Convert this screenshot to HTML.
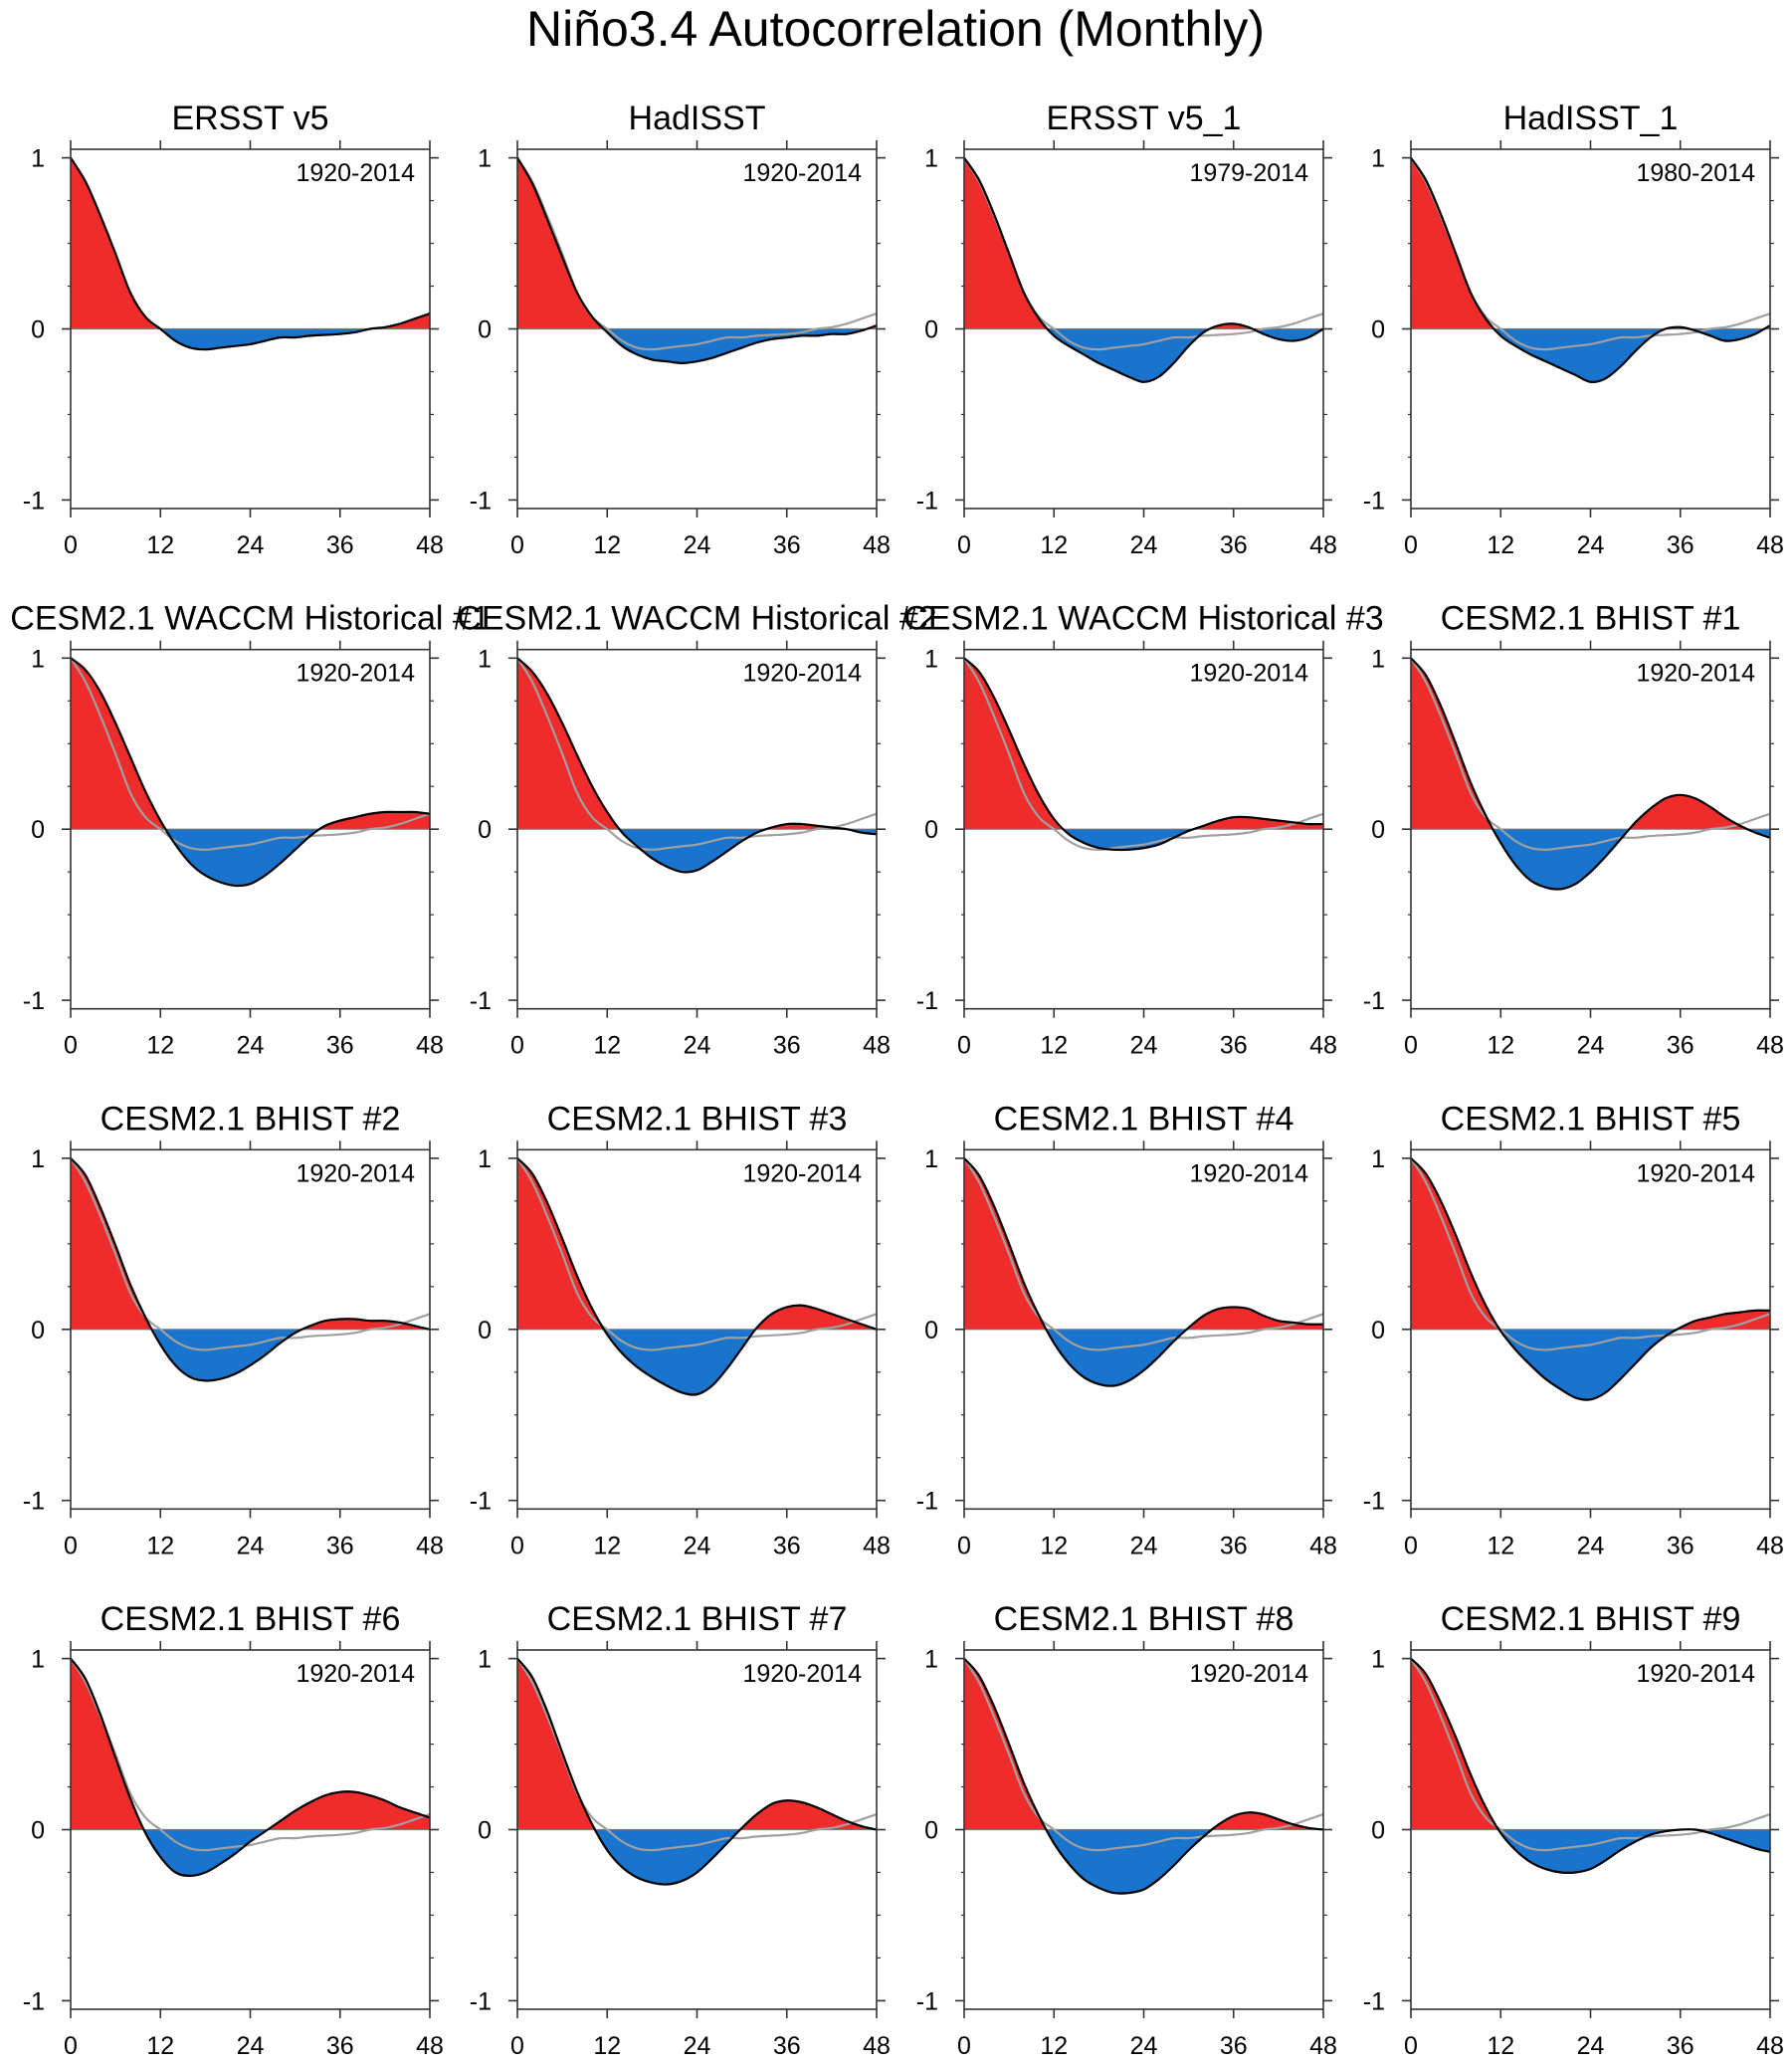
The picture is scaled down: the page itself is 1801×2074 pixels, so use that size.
<!DOCTYPE html>
<html><head><meta charset="utf-8"><style>
html,body{margin:0;padding:0;background:#fff;}
svg{display:block;font-family:"Liberation Sans",Arial,sans-serif;}
</style></head><body>
<svg id="fig" width="1801" height="2074" viewBox="0 0 1801 2074">
<text x="900" y="46" text-anchor="middle" font-size="50">Niño3.4 Autocorrelation (Monthly)</text>
</svg>
<script>
// lags 0,2,4,...,48
const lags = [0,2,4,6,8,10,12,14,16,18,20,22,24,26,28,30,32,34,36,38,40,42,44,46,48];
const titles = ["ERSST v5","HadISST","ERSST v5_1","HadISST_1",
 "CESM2.1 WACCM Historical #1","CESM2.1 WACCM Historical #2","CESM2.1 WACCM Historical #3","CESM2.1 BHIST #1",
 "CESM2.1 BHIST #2","CESM2.1 BHIST #3","CESM2.1 BHIST #4","CESM2.1 BHIST #5",
 "CESM2.1 BHIST #6","CESM2.1 BHIST #7","CESM2.1 BHIST #8","CESM2.1 BHIST #9"];
const periods = ["1920-2014","1920-2014","1979-2014","1980-2014","1920-2014","1920-2014","1920-2014","1920-2014",
 "1920-2014","1920-2014","1920-2014","1920-2014","1920-2014","1920-2014","1920-2014","1920-2014"];
const reference = [1,0.86,0.66,0.44,0.21,0.07,0,-0.07,-0.11,-0.12,-0.11,-0.1,-0.09,-0.07,-0.05,-0.05,-0.04,-0.035,-0.03,-0.02,0.0,0.01,0.03,0.06,0.09];
const s01 = reference;
const s02 = [1,0.85,0.64,0.42,0.21,0.07,-0.02,-0.1,-0.15,-0.18,-0.19,-0.2,-0.19,-0.17,-0.14,-0.11,-0.08,-0.06,-0.05,-0.04,-0.04,-0.03,-0.03,-0.01,0.02];
const s03 = [1,0.87,0.67,0.44,0.21,0.06,-0.04,-0.1,-0.15,-0.2,-0.24,-0.28,-0.31,-0.28,-0.2,-0.1,-0.02,0.02,0.03,0.01,-0.03,-0.06,-0.07,-0.05,0];
const s04 = [1,0.87,0.67,0.44,0.21,0.06,-0.04,-0.1,-0.15,-0.19,-0.23,-0.27,-0.31,-0.29,-0.22,-0.13,-0.05,0.0,0.01,-0.01,-0.04,-0.07,-0.06,-0.03,0.02];
const s05 = [1,0.93,0.8,0.62,0.42,0.22,0.05,-0.09,-0.2,-0.27,-0.31,-0.33,-0.32,-0.27,-0.2,-0.12,-0.04,0.02,0.05,0.07,0.09,0.1,0.1,0.1,0.09];
const s06 = [1,0.92,0.79,0.62,0.43,0.25,0.1,-0.02,-0.1,-0.17,-0.22,-0.25,-0.24,-0.19,-0.13,-0.07,-0.02,0.01,0.03,0.03,0.02,0.01,0,-0.02,-0.03];
const s07 = [1,0.92,0.77,0.58,0.38,0.2,0.06,-0.03,-0.08,-0.11,-0.12,-0.12,-0.11,-0.09,-0.05,-0.01,0.02,0.05,0.07,0.07,0.06,0.05,0.04,0.03,0.03];
const s08 = [1,0.9,0.72,0.5,0.27,0.08,-0.08,-0.21,-0.3,-0.34,-0.35,-0.32,-0.25,-0.16,-0.06,0.04,0.12,0.18,0.2,0.18,0.13,0.07,0.02,-0.02,-0.05];
const s09 = [1,0.9,0.71,0.49,0.26,0.07,-0.09,-0.21,-0.28,-0.3,-0.29,-0.26,-0.21,-0.15,-0.08,-0.02,0.02,0.05,0.06,0.06,0.05,0.05,0.04,0.02,0];
const s10 = [1,0.91,0.74,0.53,0.31,0.12,-0.03,-0.14,-0.22,-0.28,-0.33,-0.37,-0.38,-0.33,-0.23,-0.11,0.01,0.09,0.13,0.14,0.12,0.09,0.06,0.03,0];
const s11 = [1,0.9,0.72,0.5,0.27,0.08,-0.08,-0.2,-0.28,-0.32,-0.33,-0.3,-0.24,-0.16,-0.07,0.01,0.08,0.12,0.13,0.12,0.08,0.05,0.04,0.03,0.03];
const s12 = [1,0.91,0.75,0.55,0.33,0.14,-0.01,-0.12,-0.21,-0.29,-0.35,-0.4,-0.41,-0.37,-0.29,-0.2,-0.11,-0.04,0.01,0.05,0.07,0.09,0.1,0.11,0.11];
const s13 = [1,0.88,0.67,0.42,0.18,-0.02,-0.16,-0.25,-0.27,-0.25,-0.2,-0.14,-0.07,-0.01,0.05,0.11,0.16,0.2,0.22,0.22,0.2,0.17,0.13,0.1,0.07];
const s14 = [1,0.89,0.69,0.45,0.22,0.03,-0.12,-0.22,-0.28,-0.31,-0.32,-0.3,-0.25,-0.17,-0.08,0.01,0.09,0.15,0.17,0.16,0.13,0.09,0.05,0.02,0];
const s15 = [1,0.9,0.72,0.5,0.27,0.08,-0.08,-0.2,-0.29,-0.34,-0.37,-0.37,-0.35,-0.29,-0.21,-0.12,-0.04,0.03,0.08,0.1,0.09,0.06,0.03,0.01,0];
const s16 = [1,0.91,0.74,0.54,0.32,0.13,-0.02,-0.12,-0.19,-0.23,-0.25,-0.25,-0.23,-0.18,-0.12,-0.07,-0.03,-0.01,0,0,-0.02,-0.05,-0.08,-0.11,-0.13];
const series = [s01,s02,s03,s04,s05,s06,s07,s08,s09,s10,s11,s12,s13,s14,s15,s16];
const xTicks = [0,12,24,36,48];
const yTicks = [-1,0,1];
const yMinor = [-0.75,-0.5,-0.25,0.25,0.5,0.75];

const NS="http://www.w3.org/2000/svg";
const svg=document.getElementById('fig');
function mk(tag,attrs,parent){const e=document.createElementNS(NS,tag);for(const k in attrs)e.setAttribute(k,attrs[k]);(parent||svg).appendChild(e);return e;}
const colLeft=[71,520,969,1418], rowTop=[150,652.7,1155.3,1658], W=361, H=361;
const YMIN=-1.05, YMAX=1.05;
function smoothPath(pts){
  let d="M"+pts[0][0]+","+pts[0][1];
  for(let i=0;i<pts.length-1;i++){
    const p0=pts[Math.max(0,i-1)],p1=pts[i],p2=pts[i+1],p3=pts[Math.min(pts.length-1,i+2)];
    const c1x=p1[0]+(p2[0]-p0[0])/6,c1y=p1[1]+(p2[1]-p0[1])/6;
    const c2x=p2[0]-(p3[0]-p1[0])/6,c2y=p2[1]-(p3[1]-p1[1])/6;
    d+=" C"+c1x.toFixed(2)+","+c1y.toFixed(2)+" "+c2x.toFixed(2)+","+c2y.toFixed(2)+" "+p2[0].toFixed(2)+","+p2[1].toFixed(2);
  }
  return d;
}
series.forEach((vals,idx)=>{
  const L=colLeft[idx%4], T=rowTop[Math.floor(idx/4)];
  const xs=v=>L+v/48*W, ys=v=>T+(YMAX-v)/(YMAX-YMIN)*H;
  const g=mk('g',{});
  
  
  const t=mk('text',{x:L+W/2,y:T-20,'text-anchor':'middle','font-size':34},g);
  t.textContent=titles[idx];
  
  
  const y0=ys(0);
  const cidA='ca'+idx, cidB='cb'+idx;
  const defs=mk('defs',{},g);
  const ca=mk('clipPath',{id:cidA},defs); mk('rect',{x:L,y:T,width:W,height:y0-T},ca);
  const cb=mk('clipPath',{id:cidB},defs); mk('rect',{x:L,y:y0,width:W,height:T+H-y0},cb);
  const pts=lags.map((l,i)=>[xs(l),ys(vals[i])]);
  const curve=smoothPath(pts);
  const area=curve+" L"+xs(48)+","+y0+" L"+xs(0)+","+y0+" Z";
  const pos=mk('path',{d:area,fill:'#ee2c2c','clip-path':'url(#'+cidA+')'},g);
  
  
  const neg=mk('path',{d:area,fill:'#1874cd','clip-path':'url(#'+cidB+')'},g);
  
  
  mk('line',{x1:L,x2:L+W,y1:y0,y2:y0,stroke:'#777','stroke-width':1.2},g);
  if(idx>0){
    const rp=lags.map((l,i)=>[xs(l),ys(reference[i])]);
    const ref=mk('path',{d:smoothPath(rp),fill:'none',stroke:'#a0a0a0','stroke-width':2.2},g);
    
    
  }
  const ln=mk('path',{d:curve,fill:'none',stroke:'#000','stroke-width':2.2},g);
  
  
  const fr=mk('rect',{x:L,y:T,width:W,height:H,fill:'none',stroke:'#333','stroke-width':1.6},g);
  
  
  xTicks.forEach(v=>{
    const x=xs(v);
    mk('line',{x1:x,x2:x,y1:T+H,y2:T+H+9,stroke:'#333','stroke-width':1.6},g);
    mk('line',{x1:x,x2:x,y1:T,y2:T-9,stroke:'#333','stroke-width':1.6},g);
    const lb=mk('text',{x:x,y:T+H+45,'text-anchor':'middle','font-size':25},g);
    lb.textContent=v;
    
    
  });
  yTicks.forEach(v=>{
    const y=ys(v);
    mk('line',{x1:L-9,x2:L,y1:y,y2:y,stroke:'#333','stroke-width':1.6},g);
    mk('line',{x1:L+W,x2:L+W+9,y1:y,y2:y,stroke:'#333','stroke-width':1.6},g);
    const lb=mk('text',{x:L-26,y:y+9,'text-anchor':'end','font-size':25},g);
    lb.textContent=v;
    
    
  });
  yMinor.forEach(v=>{
    const y=ys(v);
    mk('line',{x1:L-3,x2:L,y1:y,y2:y,stroke:'#333','stroke-width':1.2},g);
    mk('line',{x1:L+W,x2:L+W+4,y1:y,y2:y,stroke:'#333','stroke-width':1.2},g);
  });
  const pl=mk('text',{x:L+W-15,y:T+32,'text-anchor':'end','font-size':25},g);
  pl.textContent=periods[idx];
  
  
});
</script>
</body></html>
